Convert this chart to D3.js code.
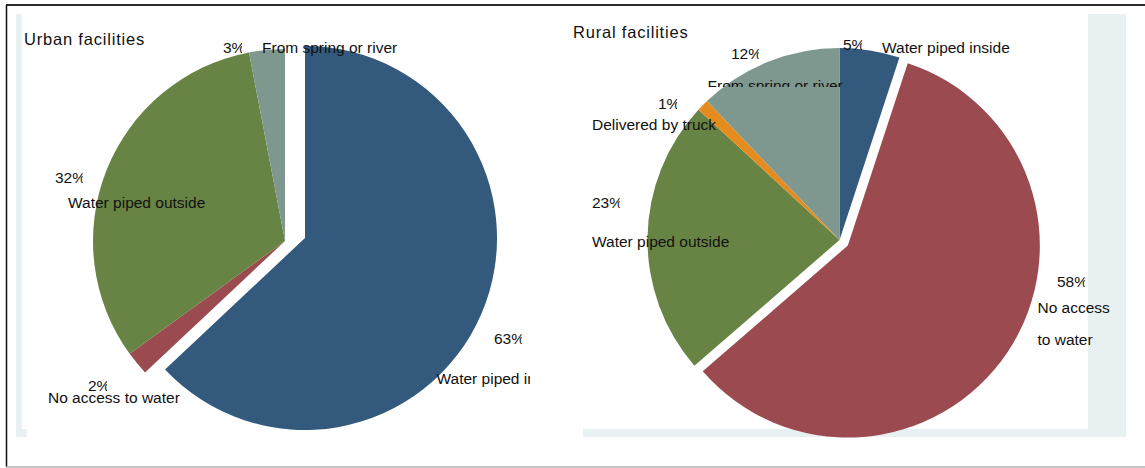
<!DOCTYPE html>
<html>
<head>
<meta charset="utf-8">
<script src="https://cdn.jsdelivr.net/npm/d3@7"></script>
<style>
  body { margin: 0; background: #fff; }
  svg { display: block; }
  text { font-family: "Liberation Sans", Arial, Helvetica, sans-serif; fill: #111; }
</style>
</head>
<body>
<svg id="chart" width="1145" height="468"></svg>
<script>
// ---- data -------------------------------------------------------------
// Slices run clockwise from 12 o'clock in the order listed.
const urbanCategories = ["Water piped inside", "No access to water", "Water piped outside", "From spring or river"];
const urbanValues     = [63, 2, 32, 3];

const ruralCategories = ["Water piped inside", "No access to water", "Water piped outside", "Delivered by truck", "From spring or river"];
const ruralValues     = [5, 58, 23, 1, 12];

const allCategories = ["Water piped inside", "No access to water", "Water piped outside", "Delivered by truck", "From spring or river"];
const sliceColors   = ["#33597d", "#9b4a50", "#678444", "#e68c1f", "#7f988f"];

// ---- layout -----------------------------------------------------------
const W = 1145, H = 468;
const svg = d3.select("#chart");
const color = d3.scaleOrdinal().domain(allCategories).range(sliceColors);

// Outer frame
svg.append("line").attr("x1", 6).attr("x2", W).attr("y1", 5).attr("y2", 5)
  .attr("stroke", "#2a2a2a").attr("stroke-width", 2);
svg.append("line").attr("x1", 6.5).attr("x2", 6.5).attr("y1", 5).attr("y2", 467)
  .attr("stroke", "#111").attr("stroke-width", 1.5);
svg.append("line").attr("x1", 6).attr("x2", W).attr("y1", 467).attr("y2", 467)
  .attr("stroke", "#b0b0b0").attr("stroke-width", 1.5);

// Light plot-region edges
const panelFill = "#e8f0f2";
svg.append("path").attr("fill", panelFill)
  .attr("d", "M16,14 H21.7 V429 H26.7 V437 H16 Z");
svg.append("path").attr("fill", panelFill)
  .attr("d", "M1088,14 H1126 V437 H583 V429 H1088 Z");

// Panel specifications: centre, radius, exploded slice offset and label placement
const panels = [
  {
    title: "Urban facilities", titleX: 24, titleY: 45,
    categories: urbanCategories, values: urbanValues,
    cx: 285, cy: 241, r: 192,
    explode: { "Water piped inside": [20, -3] },
    labelClipRight: 530,
    labels: {
      "Water piped inside":   { pct: [209, 103],   name: [151.5, 143] },
      "No access to water":   { pct: [-197, 150],  name: [-237, 162] },
      "Water piped outside":  { pct: [-230, -58],  name: [-217, -33] },
      "From spring or river": { pct: [-62, -188],  name: [-23, -188] }
    }
  },
  {
    title: "Rural facilities", titleX: 573, titleY: 38,
    categories: ruralCategories, values: ruralValues,
    cx: 839.5, cy: 240, r: 192,
    explode: { "No access to water": 10 },
    labelClipRight: null,
    labels: {
      "Water piped inside":   { pct: [3.5, -190],   name: [42.5, -187] },
      "No access to water":   { pct: [217.5, 47],   name: [198, 73], lines: ["No access", "to water"], lineGap: 32 },
      "Water piped outside":  { pct: [-247.5, -32], name: [-247.5, 7] },
      "Delivered by truck":   { pct: [-181.5, -131], name: [-247.5, -110] },
      "From spring or river": { pct: [-108.5, -181], name: [-132, -149], clipBottom: 87 }
    }
  }
];

const defs = svg.append("defs");
let clipId = 0;

panels.forEach(p => {
  const g = svg.append("g");

  g.append("text")
    .attr("x", p.titleX).attr("y", p.titleY)
    .attr("font-size", 16.5).attr("letter-spacing", 0.8)
    .text(p.title);

  const rows = p.categories.map((c, i) => ({ category: c, value: p.values[i] }));
  const pie = d3.pie().sort(null).value(d => d.value).startAngle(0).endAngle(2 * Math.PI);
  const arc = d3.arc().innerRadius(0).outerRadius(p.r);
  const arcs = pie(rows);

  const pieG = g.append("g").attr("transform", `translate(${p.cx},${p.cy})`);
  pieG.selectAll("path")
    .data(arcs)
    .join("path")
    .attr("d", arc)
    .attr("fill", d => color(d.data.category))
    .attr("transform", d => {
      const e = p.explode[d.data.category];
      if (e === undefined) return null;
      if (Array.isArray(e)) return `translate(${e[0]},${e[1]})`;
      const mid = (d.startAngle + d.endAngle) / 2;
      return `translate(${e * Math.sin(mid)},${-e * Math.cos(mid)})`;
    });

  // Labels
  const labelG = g.append("g");
  if (p.labelClipRight) {
    const id = "clip" + (clipId++);
    defs.append("clipPath").attr("id", id)
      .append("rect").attr("x", 0).attr("y", 0).attr("width", p.labelClipRight).attr("height", H);
    labelG.attr("clip-path", `url(#${id})`);
  }

  arcs.forEach(d => {
    const L = p.labels[d.data.category];
    const px = p.cx + L.pct[0], py = p.cy + L.pct[1];
    const pct = labelG.append("text")
      .attr("x", px).attr("y", py)
      .attr("font-size", 15.5)
      .text(d.data.value + "%");
    // the percent glyph is trimmed on its right side
    const bb = pct.node().getBBox();
    const pid = "clip" + (clipId++);
    defs.append("clipPath").attr("id", pid)
      .append("rect").attr("x", bb.x - 2).attr("y", bb.y - 2)
      .attr("width", bb.width - 1.5).attr("height", bb.height + 4);
    pct.attr("clip-path", `url(#${pid})`);

    const nx = p.cx + L.name[0], ny = p.cy + L.name[1];
    const lines = L.lines || [d.data.category];
    const nameText = labelG.append("text")
      .attr("x", nx).attr("y", ny)
      .attr("font-size", 15.5);
    lines.forEach((ln, i) => {
      nameText.append("tspan").attr("x", nx).attr("dy", i === 0 ? 0 : (L.lineGap || 20)).text(ln);
    });
    if (L.clipBottom !== undefined) {
      const nid = "clip" + (clipId++);
      defs.append("clipPath").attr("id", nid)
        .append("rect").attr("x", 0).attr("y", 0).attr("width", W).attr("height", L.clipBottom);
      nameText.attr("clip-path", `url(#${nid})`);
    }
  });
});
</script>
</body>
</html>
